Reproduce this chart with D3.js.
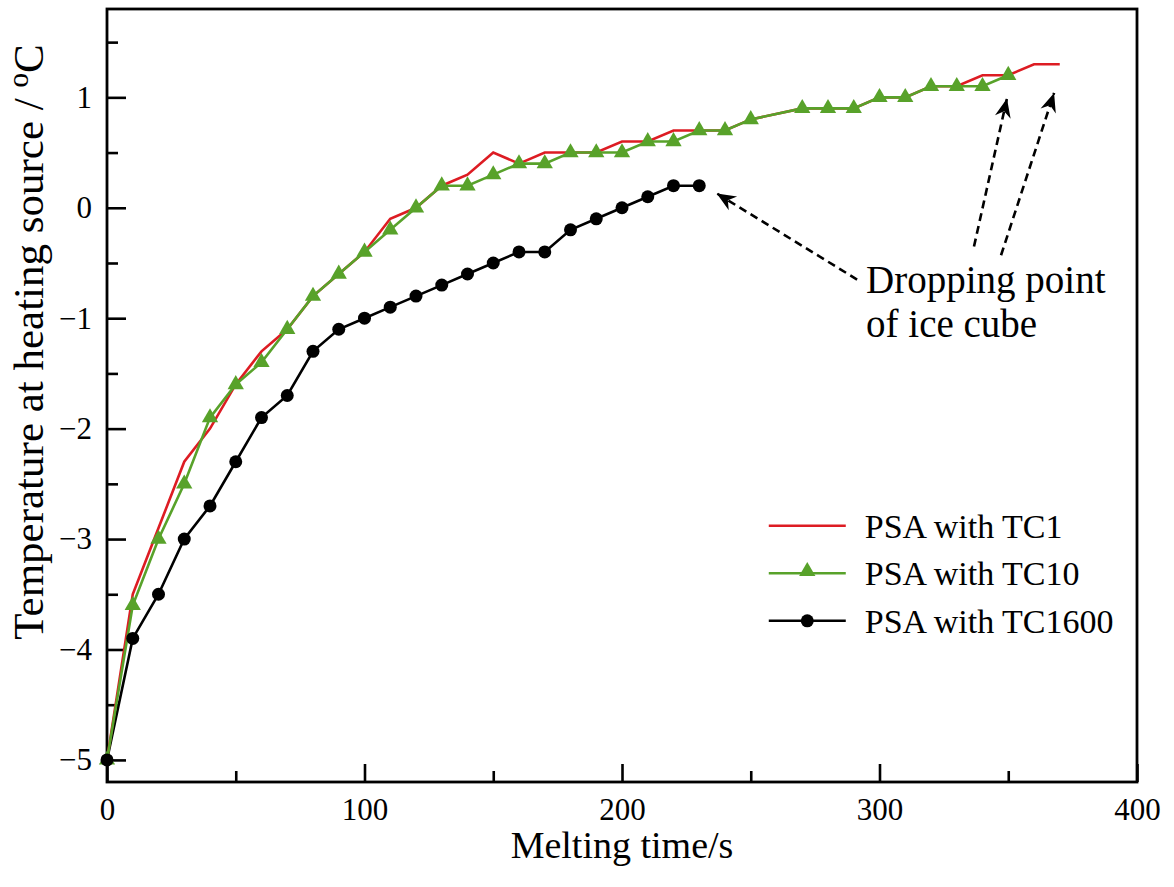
<!DOCTYPE html>
<html>
<head>
<meta charset="utf-8">
<script src="https://cdn.jsdelivr.net/npm/d3@7"></script>
<style>
  body { margin: 0; background: #fff; }
  svg { font-family: "Liberation Serif", "Times New Roman", serif; }
</style>
</head>
<body>
<div id="chart"></div>
<script>
// time axis (s), sampled every 10 s
let timeTC1 = [0, 10, 20, 30, 40, 50, 60, 70, 80, 90, 100, 110, 120, 130, 140, 150, 160, 170, 180, 190, 200, 210, 220, 230, 240, 250, 270, 280, 290, 300, 310, 320, 330, 340, 350, 360, 370]
let tempTC1 = [-5, -3.5, -2.9, -2.3, -2.0, -1.6, -1.3, -1.1, -0.8, -0.6, -0.4, -0.1, 0.0, 0.2, 0.3, 0.5, 0.4, 0.5, 0.5, 0.5, 0.6, 0.6, 0.7, 0.7, 0.7, 0.8, 0.9, 0.9, 0.9, 1.0, 1.0, 1.1, 1.1, 1.2, 1.2, 1.3, 1.3]

let timeTC10 = [0, 10, 20, 30, 40, 50, 60, 70, 80, 90, 100, 110, 120, 130, 140, 150, 160, 170, 180, 190, 200, 210, 220, 230, 240, 250, 270, 280, 290, 300, 310, 320, 330, 340, 350]
let tempTC10 = [-5, -3.6, -3.0, -2.5, -1.9, -1.6, -1.4, -1.1, -0.8, -0.6, -0.4, -0.2, 0.0, 0.2, 0.2, 0.3, 0.4, 0.4, 0.5, 0.5, 0.5, 0.6, 0.6, 0.7, 0.7, 0.8, 0.9, 0.9, 0.9, 1.0, 1.0, 1.1, 1.1, 1.1, 1.2]

let timeTC1600 = [0, 10, 20, 30, 40, 50, 60, 70, 80, 90, 100, 110, 120, 130, 140, 150, 160, 170, 180, 190, 200, 210, 220, 230]
let tempTC1600 = [-5, -3.9, -3.5, -3.0, -2.7, -2.3, -1.9, -1.7, -1.3, -1.1, -1.0, -0.9, -0.8, -0.7, -0.6, -0.5, -0.4, -0.4, -0.2, -0.1, 0.0, 0.1, 0.2, 0.2]

let seriesNames = ["PSA with TC1", "PSA with TC10", "PSA with TC1600"]
let xTicks = [0, 100, 200, 300, 400]
let yTicks = [-5, -4, -3, -2, -1, 0, 1]

let width = 1174,
    height = 887

let margin = {
    top: 9,
    right: 37,
    bottom: 105,
    left: 107
}

let w = width - margin.left - margin.right
let h = height - margin.top - margin.bottom

let xScale = d3.scaleLinear().domain([0, 400]).range([0, w])
let yScale = d3.scaleLinear().domain([-5.2, 1.8]).range([h, 0])

let colors = ["#dd1c23", "#58a22a", "#000000"]

let svg = d3.select("#chart")
    .append("svg")
    .attr("width", width)
    .attr("height", height)

let defs = svg.append("defs")
defs.append("marker")
    .attr("id", "arrow")
    .attr("viewBox", "-20 -9 22 18")
    .attr("markerUnits", "userSpaceOnUse")
    .attr("markerWidth", 22)
    .attr("markerHeight", 18)
    .attr("refX", 0)
    .attr("refY", 0)
    .attr("orient", "auto")
    .append("path")
    .attr("d", "M0,0 L-19,-8 L-13,0 L-19,8 Z")
    .attr("fill", "#000")

let g = svg.append("g")
    .attr("transform", "translate(" + margin.left + "," + margin.top + ")")

// ticks (inward)
let fmt = d => d < 0 ? "\u2212" + Math.abs(d) : "" + d

let xAxis = d3.axisBottom(xScale)
    .tickValues(xTicks)
    .tickSize(-18)
    .tickPadding(16)
    .tickFormat(fmt)
let xMinor = d3.axisBottom(xScale)
    .tickValues(d3.range(50, 400, 100))
    .tickSize(-11)
    .tickFormat("")
let yAxis = d3.axisLeft(yScale)
    .tickValues(yTicks)
    .tickSize(-19)
    .tickPadding(15)
    .tickFormat(fmt)
let yMinor = d3.axisLeft(yScale)
    .tickValues(d3.range(-4.5, 1.6, 1))
    .tickSize(-11)
    .tickFormat("")

function styleAxis(sel) {
    sel.select(".domain").remove()
    sel.selectAll(".tick line").attr("stroke", "#000").attr("stroke-width", 2.6)
    sel.selectAll(".tick text")
        .attr("fill", "#000")
        .style("font-family", "Liberation Serif")
        .style("font-size", "31px")
}

g.append("g").attr("transform", "translate(0," + h + ")").call(xAxis).call(styleAxis)
g.append("g").attr("transform", "translate(0," + h + ")").call(xMinor).call(styleAxis)
g.append("g").call(yAxis).call(styleAxis)
g.append("g").call(yMinor).call(styleAxis)

// frame
g.append("rect")
    .attr("x", 0)
    .attr("y", 0)
    .attr("width", w)
    .attr("height", h)
    .attr("fill", "none")
    .attr("stroke", "#000")
    .attr("stroke-width", 2.8)

// lines
let line = d3.line()
    .x(d => xScale(d[0]))
    .y(d => yScale(d[1]))

let dataTC1 = d3.zip(timeTC1, tempTC1)
let dataTC10 = d3.zip(timeTC10, tempTC10)
let dataTC1600 = d3.zip(timeTC1600, tempTC1600)

g.append("path").datum(dataTC1600)
    .attr("d", line).attr("fill", "none")
    .attr("stroke", colors[2]).attr("stroke-width", 2.6)
g.append("path").datum(dataTC1)
    .attr("d", line).attr("fill", "none")
    .attr("stroke", colors[0]).attr("stroke-width", 2.6)
g.append("path").datum(dataTC10)
    .attr("d", line).attr("fill", "none")
    .attr("stroke", colors[1]).attr("stroke-width", 2.6)

let triangle = d3.symbol().type(d3.symbolTriangle).size(115)

g.selectAll(".tri")
    .data(dataTC10)
    .enter()
    .append("path")
    .attr("class", "tri")
    .attr("d", triangle)
    .attr("transform", d => "translate(" + xScale(d[0]) + "," + yScale(d[1]) + ")")
    .attr("fill", colors[1])

g.selectAll(".dot")
    .data(dataTC1600)
    .enter()
    .append("circle")
    .attr("class", "dot")
    .attr("cx", d => xScale(d[0]))
    .attr("cy", d => yScale(d[1]))
    .attr("r", 6.5)
    .attr("fill", colors[2])

// legend
let legend = g.append("g")
    .selectAll("g")
    .data(seriesNames)
    .enter()
    .append("g")
    .attr("transform", (d, i) => "translate(" + (xScale(257)) + "," + (yScale(-2.88) + i * 47.5) + ")")

legend.append("line")
    .attr("x1", 0).attr("x2", 77)
    .attr("stroke", (d, i) => colors[i])
    .attr("stroke-width", 2.6)
legend.filter((d, i) => i == 1).append("path")
    .attr("d", triangle)
    .attr("transform", "translate(38.5,-2)")
    .attr("fill", colors[1])
legend.filter((d, i) => i == 2).append("circle")
    .attr("cx", 38.5).attr("r", 6.5)
    .attr("fill", colors[2])
legend.append("text")
    .attr("x", 96)
    .attr("y", 12)
    .style("font-size", "34px")
    .text(d => d)

// annotation arrows
let arrows = [
    [[291.3, -0.65], [236.8, 0.13]],
    [[336.7, -0.35], [349.5, 0.99]],
    [[347.2, -0.43], [367.8, 1.04]]
]
g.selectAll(".arrow")
    .data(arrows)
    .enter()
    .append("line")
    .attr("class", "arrow")
    .attr("x1", d => xScale(d[0][0]))
    .attr("y1", d => yScale(d[0][1]))
    .attr("x2", d => xScale(d[1][0]))
    .attr("y2", d => yScale(d[1][1]))
    .attr("stroke", "#000")
    .attr("stroke-width", 2.6)
    .attr("stroke-dasharray", "8,5")
    .attr("marker-end", "url(#arrow)")

let note = g.append("text")
    .attr("x", xScale(294.8))
    .attr("y", yScale(-0.775))
    .style("font-size", "39px")
note.append("tspan").text("Dropping point")
note.append("tspan").attr("x", xScale(294.8)).attr("dy", 44).text("of ice cube")

// axis titles
g.append("text")
    .attr("x", w / 2)
    .attr("y", h + 76)
    .attr("text-anchor", "middle")
    .style("font-size", "38px")
    .text("Melting time/s")

let yTitle = g.append("text")
    .attr("transform", "rotate(-90)")
    .attr("x", -333)
    .attr("y", -64)
    .attr("text-anchor", "middle")
    .style("font-size", "43px")
yTitle.append("tspan").text("Temperature at heating source / ")
yTitle.append("tspan").attr("dy", -15).style("font-size", "29px").text("o")
yTitle.append("tspan").attr("dy", 15).text("C")
</script>
</body>
</html>
